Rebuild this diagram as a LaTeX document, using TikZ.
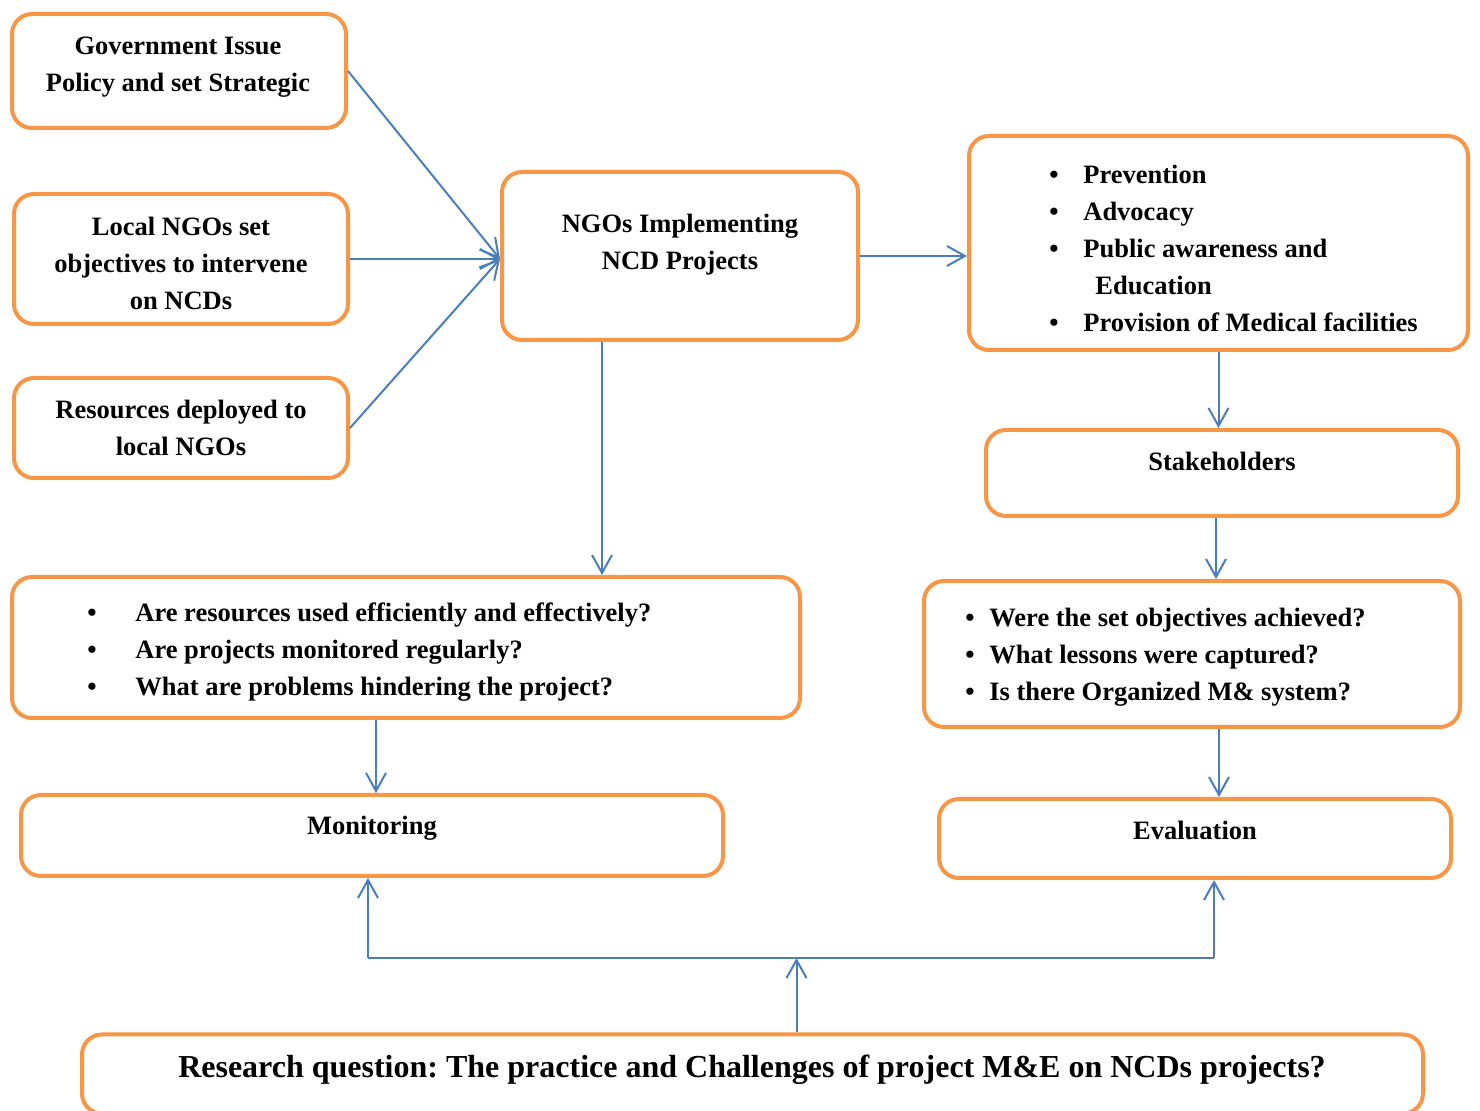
\documentclass[tikz,border=0pt]{standalone}
\usepackage{fontspec}
\setmainfont{Liberation Serif}
\usetikzlibrary{arrows.meta,positioning}
\definecolor{boxorange}{RGB}{247,150,70}
\definecolor{linkblue}{RGB}{74,126,187}
\tikzset{
  box/.style={draw=boxorange, line width=2pt, rounded corners=10pt, inner sep=0pt},
  txt/.style={inner sep=0pt, anchor=base,
              font=\fontsize{13.25}{18.5}\selectfont\bfseries},
  arr/.style={draw=linkblue, line width=1pt,
              -{Straight Barb[length=9pt,width=10pt]}},
  link/.style={draw=linkblue, line width=1pt},
}
\frenchspacing
\begin{document}
\begin{tikzpicture}[x=0.5pt, y=-0.5pt]
  \useasboundingbox (0,0) rectangle (1480,1111);

  % boxes
  \node[box, minimum width=167pt, minimum height=57pt] (gov) at (179,71) {};
  \node[box, minimum width=167pt, minimum height=65pt] (local) at (181,259) {};
  \node[box, minimum width=167pt, minimum height=50pt] (res) at (181,428) {};
  \node[box, minimum width=178pt, minimum height=84pt] (ngo) at (680,256) {};
  \node[box, minimum width=249.5pt, minimum height=107pt] (prev) at (1218.5,243) {};
  \node[box, minimum width=236pt, minimum height=43pt] (stake) at (1222,473) {};
  \node[box, minimum width=394pt, minimum height=70.5pt] (qleft) at (406,647.5) {};
  \node[box, minimum width=268pt, minimum height=73pt] (qright) at (1192,654) {};
  \node[box, minimum width=351pt, minimum height=40.5pt] (mon) at (372,835.5) {};
  \node[box, minimum width=256pt, minimum height=39.5pt] (eval) at (1195,838.5) {};
  \node[box, minimum width=670.5pt, minimum height=39.5pt] (rq) at (752.5,1074) {};

  % texts
  \node[txt] (govtxt) at (178,55)
    {\begin{tabular}[t]{@{}c@{}}Government Issue\\Policy and set Strategic\end{tabular}};
  \node[txt] (localtxt) at (181,236)
    {\begin{tabular}[t]{@{}c@{}}Local NGOs set\\objectives to intervene\\on NCDs\end{tabular}};
  \node[txt] (restxt) at (181,419)
    {\begin{tabular}[t]{@{}c@{}}Resources deployed to\\local NGOs\end{tabular}};
  \node[txt] (ngotxt) at (680,233)
    {\begin{tabular}[t]{@{}c@{}}NGOs Implementing\\NCD Projects\end{tabular}};
  \node[txt, anchor=base west] (prevtxt) at (1049,184)
    {\begin{tabular}[t]{@{}p{17pt}@{}l@{}}
      \textbullet & Prevention\\
      \textbullet & Advocacy\\
      \textbullet & Public awareness and\\
                  & \hspace{6pt}Education\\
      \textbullet & Provision of Medical facilities
    \end{tabular}};
  \node[txt] (staketxt) at (1222,471) {Stakeholders};
  \node[txt, anchor=base west] (qlefttxt) at (87,622)
    {\begin{tabular}[t]{@{}p{24pt}@{}l@{}}
      \textbullet & Are resources used efficiently and effectively?\\
      \textbullet & Are projects monitored regularly?\\
      \textbullet & What are problems hindering the project?
    \end{tabular}};
  \node[txt, anchor=base west] (qrighttxt) at (965,627)
    {\begin{tabular}[t]{@{}p{12pt}@{}l@{}}
      \textbullet & Were the set objectives achieved?\\
      \textbullet & What lessons were captured?\\
      \textbullet & Is there Organized M\& system?
    \end{tabular}};
  \node[txt] (montxt) at (372,835) {Monitoring};
  \node[txt] (evaltxt) at (1195,840) {Evaluation};
  \node[txt, font=\fontsize{16}{18.5}\selectfont\bfseries] (rqtxt) at (752,1078)
    {Research question: The practice and Challenges of project M\&E on NCDs projects?};

  % connectors
  \coordinate (hub) at (local.east -| ngo.west);
  \draw[arr] (gov.east) -- (hub);
  \draw[arr] (local.east) -- (hub);
  \draw[arr] (res.east) -- (hub);
  \draw[arr] (ngo.east) -- (ngo.east -| prev.west);
  \coordinate (n1) at ([xshift=-39pt]ngo.south);
  \draw[arr] (n1) -- (n1 |- qleft.north);
  \draw[arr] (prev.south) -- (prev.south |- stake.north);
  \coordinate (s1) at ([xshift=-3pt]stake.south);
  \draw[arr] (s1) -- (s1 |- qright.north);
  \coordinate (m1) at ([xshift=2pt]mon.north);
  \draw[arr] (m1 |- qleft.south) -- (m1);
  \coordinate (e1) at ([xshift=12pt]eval.north);
  \draw[arr] (e1 |- qright.south) -- (e1);
  \coordinate (r1) at ([xshift=22pt]rq.north);
  \coordinate (lj) at (368,958);
  \coordinate (rj) at (1214,958);
  \draw[arr] (r1) -- (r1 |- lj);
  \draw[link] (lj) -- (rj);
  \draw[arr] (lj) -- (lj |- mon.south);
  \draw[arr] (rj) -- (rj |- eval.south);
\end{tikzpicture}
\end{document}
